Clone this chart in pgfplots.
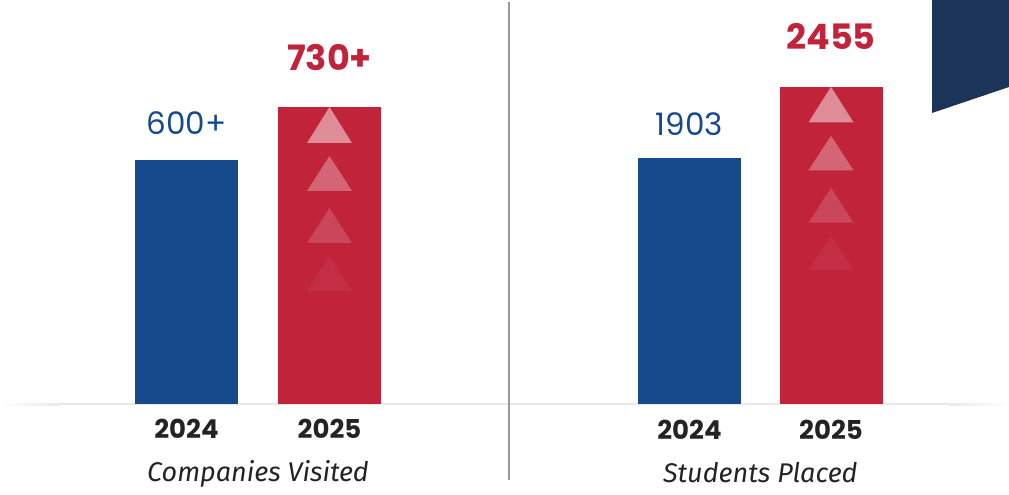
\documentclass[border=0pt]{standalone}
\usepackage{pgfplots}
\pgfplotsset{compat=1.18}
\usepackage{fontspec}
\setmainfont{Poppins}
\newfontfamily\labfont{Fira Sans}
\definecolor{cblue}{RGB}{23,73,141}
\definecolor{cred}{RGB}{193,35,59}
\definecolor{cnavy}{RGB}{27,52,88}
\definecolor{ctext}{RGB}{35,35,35}
\definecolor{cline}{RGB}{232,232,232}
\begin{document}
\begin{tikzpicture}
\pgfplotsset{
 panel/.style={scale only axis, height=404pt, xmin=-0.5, xmax=1.5, ymin=0, clip=false,
  axis line style={draw=none}, ytick=\empty, xtick={0,1}, xticklabels={2024,2025},
  major tick length=0pt,
  xticklabel style={anchor=base, yshift=-35pt, font=\fontsize{26}{30}\selectfont\bfseries, text=ctext},
  xlabel style={at={(axis description cs:0.5,0)}, anchor=base, yshift=-78pt,
    font=\labfont\fontsize{27}{30}\selectfont\itshape, text=ctext},
  anchor=south west},
 bluebar/.style={ybar, bar width=103pt, fill=cblue, draw=none, nodes near coords,
  point meta=explicit symbolic,
  every node near coord/.append style={anchor=base, yshift=#1, text=cblue,
   font=\fontsize{31}{36}\selectfont}},
 redbar/.style={ybar, bar width=103pt, fill=cred, draw=none, nodes near coords,
  point meta=explicit symbolic,
  every node near coord/.append style={anchor=base, yshift=#1, text=cred,
   font=\fontsize{35}{40}\selectfont\bfseries}},
 tri/.style={draw=none, fill=white, fill opacity=#1, mark=none},
}
% faint baseline
\shade[left color=white, right color=cline] (0pt,89.5pt) rectangle (60pt,91.5pt);
\fill[cline] (60pt,89.5pt) rectangle (949pt,91.5pt);
\shade[left color=cline, right color=white] (949pt,89.5pt) rectangle (1009pt,91.5pt);
% divider
\draw[line width=1.6pt, color=black!40] (509pt,15pt) -- (509pt,493pt);
% navy corner shape
\fill[cnavy] (932pt,495pt) -- (1009pt,495pt) -- (1009pt,408pt) -- (932pt,382pt) -- cycle;

\begin{axis}[panel, width=286pt, ymax=993, at={(115pt,91pt)}, xlabel={Companies Visited}]
\addplot[bluebar=25pt] coordinates {(0,600) [600+]};
\addplot[redbar=36pt] coordinates {(1,730) [730+]};
\addplot[tri=0.48] coordinates {(0.843,641.6) (1,730) (1.157,641.6)} -- cycle;
\addplot[tri=0.30] coordinates {(0.843,523.6) (1,609.6) (1.157,523.6)} -- cycle;
\addplot[tri=0.16] coordinates {(0.843,395.8) (1,481.8) (1.157,395.8)} -- cycle;
\addplot[tri=0.05] coordinates {(0.843,277.8) (1,363.8) (1.157,277.8)} -- cycle;
\end{axis}

\begin{axis}[panel, width=283pt, ymax=3127, at={(618.75pt,91pt)}, xlabel={Students Placed}]
\addplot[bluebar=23pt] coordinates {(0,1903) [1903]};
\addplot[redbar=37pt] coordinates {(1,2455) [2455]};
\addplot[tri=0.48] coordinates {(0.841,2180) (1,2455) (1.159,2180)} -- cycle;
\addplot[tri=0.30] coordinates {(0.841,1809) (1,2076) (1.159,1809)} -- cycle;
\addplot[tri=0.16] coordinates {(0.841,1403) (1,1674) (1.159,1403)} -- cycle;
\addplot[tri=0.05] coordinates {(0.841,1037) (1,1303) (1.159,1037)} -- cycle;
\end{axis}

\pgfresetboundingbox
\path[use as bounding box] (0pt,0pt) rectangle (1009pt,495pt);
\end{tikzpicture}
\end{document}
